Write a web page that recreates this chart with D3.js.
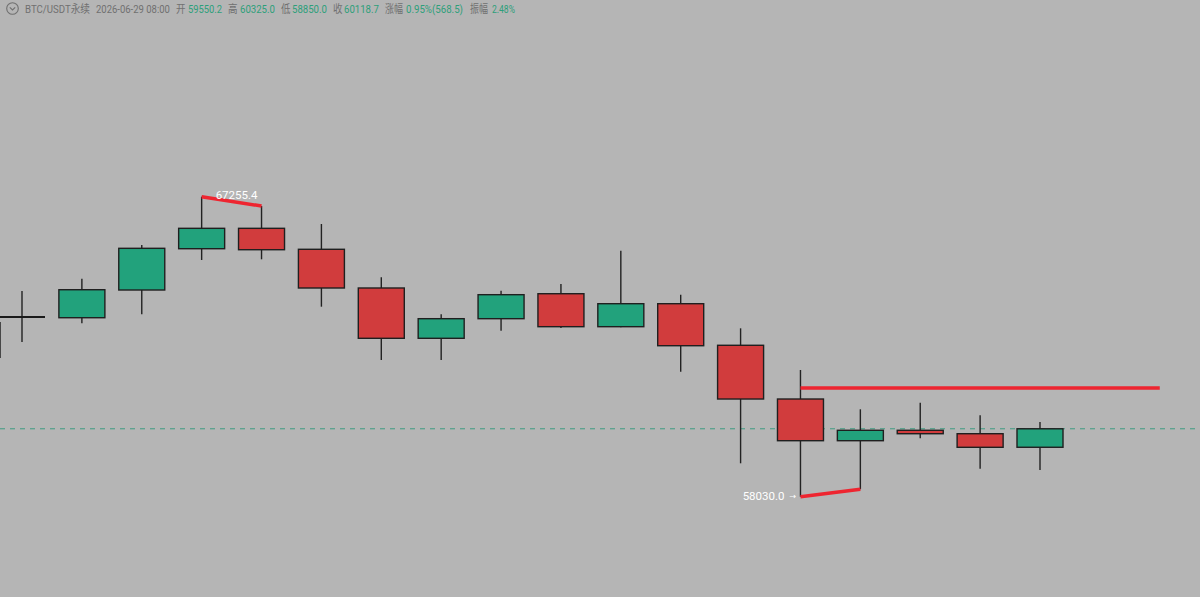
<!DOCTYPE html>
<html><head><meta charset="utf-8">
<script src="https://cdn.jsdelivr.net/npm/d3@7"></script>
<style>html,body{margin:0;padding:0;background:#b5b5b5;overflow:hidden}svg{display:block}</style>
</head><body>
<svg id="c" width="1200" height="597"></svg>
<script>
// ---- data ----
const opens  = [63556, 63534, 64386, 65656, 66283, 65638, 64448, 62901, 63504, 64272, 63258, 63965, 62686, 61034, 59752, 60072, 59967, 59550.2];
const highs  = [64355, 64734, 65770, 67255.4, 66969, 66416, 64777, 63639, 64365, 64570, 65595, 64242, 63208, 61926, 60718, 60921, 60533, 60325.0];
const lows   = [62787, 63362, 63639, 65309, 65330, 63873, 62234, 62234, 63135, 63218, 63240, 61874, 59057, 58030.0, 58258, 59826, 58891, 58850.0];
const closes = [63556, 64395, 65668, 66283, 65625, 64448, 62901, 63504, 64242, 63258, 63965, 62673, 61034, 59752, 60072, 59967, 59549, 60118.7];
const headerLabels = ["BTC/USDT永续", "2026-06-29 08:00", "开", "59550.2", "高", "60325.0", "低", "58850.0", "收", "60118.7", "涨幅", "0.95%(568.5)", "振幅", "2.48%"];
const headerIsValue = [false, false, false, true, false, true, false, true, false, true, false, true, false, true];
const highMarkLabel = "67255.4";
const lowMarkLabel = "58030.0";
const levelPrice = 61373;        // horizontal drawn level
const levelFrom = 13, levelTo = 19;
const lastPrice = 60118.7;
const straySeg = {i: -0.37, p1: 63402, p2: 62295};

// ---- scales ----
const W = 1200, H = 597;
const x = d3.scaleLinear().domain([0, 17]).range([22, 1040]);
const y = d3.scaleLinear().domain([58030, 67255.4]).range([496.7, 196.7]);
const bodyW = 46;
const svg = d3.select("#c");
const GREEN = "#22a27c", RED = "#d13c3d";

const hdrX = [25, 96, 176, 188, 228, 240, 281, 292, 333, 344, 385, 406, 470, 492];
const hdrW = [65, 74, 9.5, 34, 9.5, 35, 9.5, 35, 9.5, 35, 18, 57, 18, 23];
const hdr = svg.append("g").attr("font-family", "Roboto, 'Noto Sans CJK SC', sans-serif").attr("font-size", 11.5);
hdr.selectAll("text").data(headerLabels).join("text")
  .attr("x", 0).attr("y", 0)
  .attr("fill", (d, i) => headerIsValue[i] ? "#2d9f7a" : "#707070")
  .text(d => d)
  .each(function (d, i) {
    const nat = this.getComputedTextLength() || hdrW[i];
    const sx = Math.min(1.2, hdrW[i] / nat);
    d3.select(this).attr("transform", `translate(${hdrX[i]},12.8) scale(${sx},1)`);
  });
hdr.append("circle").attr("cx", 12.5).attr("cy", 8.5).attr("r", 5.8).attr("fill", "none").attr("stroke", "#6f6f6f").attr("stroke-width", 1.1);
hdr.append("path").attr("d", "M9.8,7.3 L12.5,10 L15.2,7.3").attr("fill", "none").attr("stroke", "#6f6f6f").attr("stroke-width", 1.1);

// last price dashed line
svg.append("line").attr("x1", 0).attr("x2", W).attr("y1", y(lastPrice)).attr("y2", y(lastPrice))
  .attr("stroke", "#3f9c82").attr("stroke-width", 1).attr("stroke-dasharray", "5,5");

// candles
const idx = d3.range(opens.length);
const cg = svg.append("g");
cg.selectAll("line.wick").data(idx).join("line").attr("class", "wick")
  .attr("x1", i => x(i)).attr("x2", i => x(i))
  .attr("y1", i => y(highs[i])).attr("y2", i => y(lows[i]))
  .attr("stroke", "#222").attr("stroke-width", 1.4);
// stray segment at left edge
cg.append("line").attr("x1", x(straySeg.i)).attr("x2", x(straySeg.i))
  .attr("y1", y(straySeg.p1)).attr("y2", y(straySeg.p2)).attr("stroke", "#333").attr("stroke-width", 2);

cg.selectAll("rect.body").data(idx.filter(i => opens[i] !== closes[i])).join("rect").attr("class", "body")
  .attr("x", i => x(i) - bodyW / 2).attr("width", bodyW)
  .attr("y", i => y(Math.max(opens[i], closes[i])))
  .attr("height", i => Math.max(2, Math.abs(y(opens[i]) - y(closes[i]))))
  .attr("fill", i => closes[i] > opens[i] ? GREEN : RED)
  .attr("stroke", "#1f1f1f").attr("stroke-width", 1.4);
cg.selectAll("line.doji").data(idx.filter(i => opens[i] === closes[i])).join("line").attr("class", "doji")
  .attr("x1", i => x(i) - bodyW / 2 - 1).attr("x2", i => x(i) + bodyW / 2)
  .attr("y1", i => y(opens[i])).attr("y2", i => y(opens[i]))
  .attr("stroke", "#1a1a1a").attr("stroke-width", 2);

// drawings
const MARK = "#ee2530";
svg.append("line").attr("x1", x(3)).attr("y1", y(highs[3])).attr("x2", x(4)).attr("y2", y(highs[4]))
  .attr("stroke", MARK).attr("stroke-width", 3.5);
svg.append("line").attr("x1", x(13)).attr("y1", y(lows[13])).attr("x2", x(14)).attr("y2", y(lows[14]))
  .attr("stroke", MARK).attr("stroke-width", 3.5);
svg.append("line").attr("x1", x(levelFrom)).attr("x2", x(levelTo)).attr("y1", y(levelPrice)).attr("y2", y(levelPrice))
  .attr("stroke", MARK).attr("stroke-width", 3.5);

const lbl = svg.append("g").attr("font-family", "Roboto, sans-serif").attr("font-size", 11.5).attr("fill", "#ffffff");
lbl.append("text").attr("x", x(3) + 14).attr("y", y(highs[3]) + 2.5).text(highMarkLabel);
lbl.append("text").attr("x", x(13) - 16).attr("y", y(lows[13]) + 3).attr("text-anchor", "end").text(lowMarkLabel);
lbl.append("text").attr("x", x(13) - 11).attr("y", y(lows[13]) + 2.5).attr("font-family", "'DejaVu Sans', sans-serif").attr("font-size", 8).text("→");
</script>
</body></html>
